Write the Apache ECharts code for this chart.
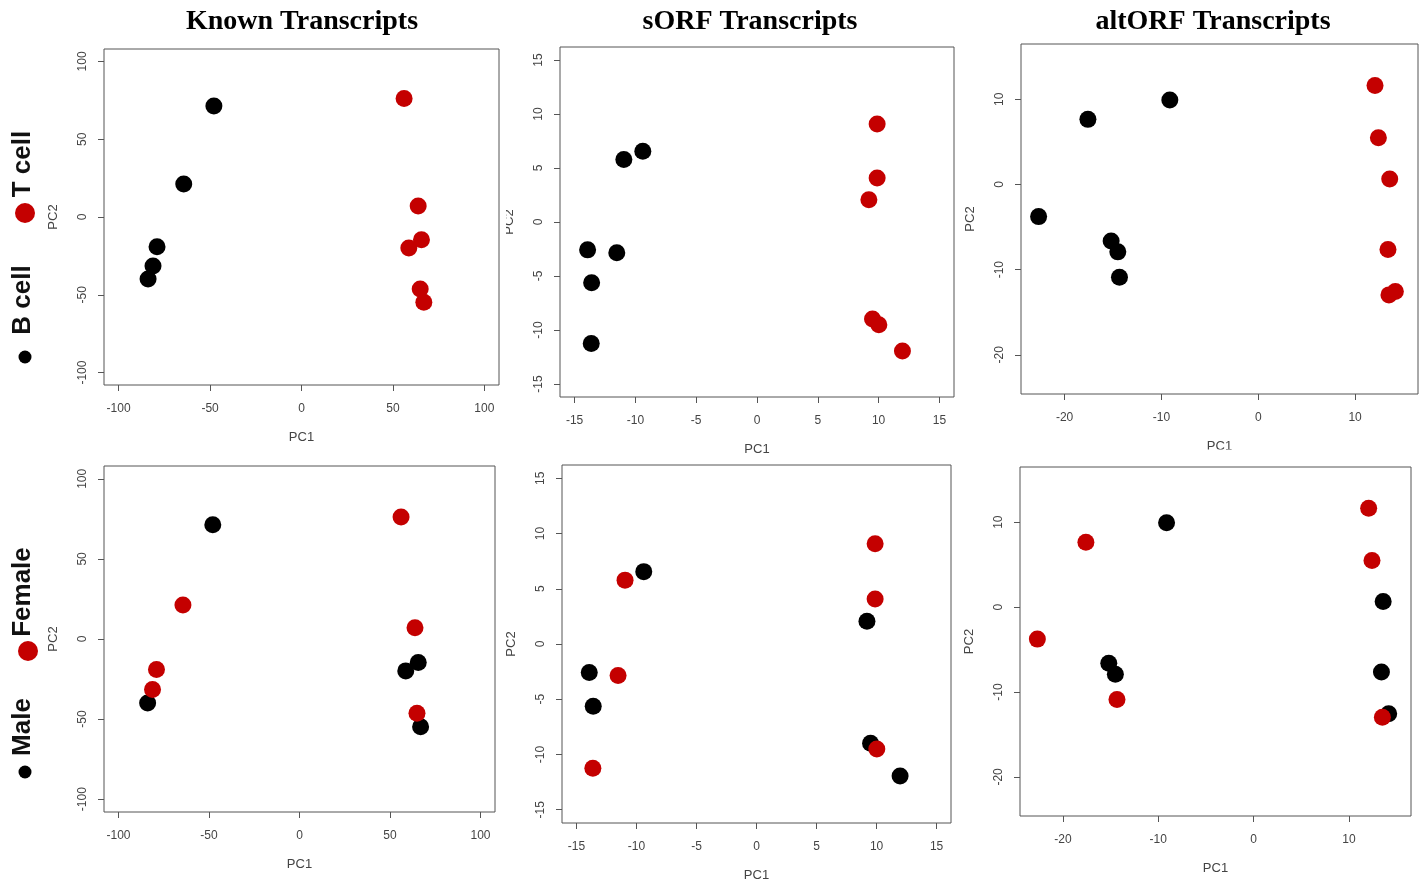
<!DOCTYPE html>
<html>
<head>
<meta charset="utf-8">
<script src="https://cdn.jsdelivr.net/npm/echarts@6/dist/echarts.min.js"></script>
<style>
  html, body { margin: 0; background: #fff; }
  #chart { width: 1424px; height: 888px; }
</style>
</head>
<body>
<div id="chart"></div>
<script>
// PCA scores, one entry per sample
var knownPC1 = [-47.9, -64.4, -79.0, -81.2, -83.9, 56.1, 63.8, 65.6, 58.7, 64.9, 66.9];
var knownPC2 = [71.3, 21.2, -19.1, -31.5, -39.9, 76.2, 7.0, -14.6, -19.9, -46.3, -54.8];
var knownCell = ['B', 'B', 'B', 'B', 'B', 'T', 'T', 'T', 'T', 'T', 'T'];
var knownSex = ['M', 'F', 'F', 'F', 'M', 'F', 'F', 'M', 'M', 'F', 'M'];

var sorfPC1 = [-10.95, -9.39, -13.93, -11.53, -13.6, -13.63, 9.88, 9.88, 9.2, 9.5, 10.02, 11.96];
var sorfPC2 = [5.78, 6.55, -2.58, -2.85, -5.63, -11.24, 9.08, 4.08, 2.05, -8.99, -9.51, -11.95];
var sorfCell = ['B', 'B', 'B', 'B', 'B', 'B', 'T', 'T', 'T', 'T', 'T', 'T'];
var sorfSex = ['F', 'M', 'M', 'F', 'M', 'F', 'F', 'F', 'M', 'M', 'F', 'M'];

var altPC1 = [-22.68, -17.59, -9.13, -15.19, -14.5, -14.33, 12.06, 12.41, 13.58, 13.4, 13.5, 14.16];
var altPC2 = [-3.77, 7.65, 9.93, -6.62, -7.91, -10.89, 11.64, 5.5, 0.65, -7.64, -12.96, -12.57];
var altCell = ['B', 'B', 'B', 'B', 'B', 'B', 'T', 'T', 'T', 'T', 'T', 'T'];
var altSex = ['F', 'F', 'M', 'M', 'M', 'F', 'F', 'F', 'M', 'M', 'F', 'M'];

// axis ticks
var knownTicks = [-100, -50, 0, 50, 100];
var sorfTicks = [-15, -10, -5, 0, 5, 10, 15];
var altTicks = [-20, -10, 0, 10];

var titles = ['Known Transcripts', 'sORF Transcripts', 'altORF Transcripts'];

var RED = '#c40000';
var BLACK = '#000';

// panel layout: row 0 = cell type, row 1 = sex
var panels = [
    {pc1: knownPC1, pc2: knownPC2, grp: knownCell, red: 'T', ticks: knownTicks, xr: [-108, 108], yr: [-108, 108], box: [104, 49, 395, 336]},
    {pc1: sorfPC1, pc2: sorfPC2, grp: sorfCell, red: 'T', ticks: sorfTicks, xr: [-16.2, 16.2], yr: [-16.2, 16.2], box: [560, 47, 394, 350]},
    {pc1: altPC1, pc2: altPC2, grp: altCell, red: 'T', ticks: altTicks, xr: [-24.5, 16.5], yr: [-24.6, 16.5], box: [1021, 44, 397, 350]},
    {pc1: knownPC1, pc2: knownPC2, grp: knownSex, red: 'F', ticks: knownTicks, xr: [-108, 108], yr: [-108, 108], box: [104, 466, 391, 346]},
    {pc1: sorfPC1, pc2: sorfPC2, grp: sorfSex, red: 'F', ticks: sorfTicks, xr: [-16.2, 16.2], yr: [-16.2, 16.2], box: [562, 465, 389, 358]},
    {pc1: altPC1, pc2: altPC2, grp: altSex, red: 'F', ticks: altTicks, xr: [-24.5, 16.5], yr: [-24.6, 16.5], box: [1020, 467, 391, 349]}
];

var grids = [], xAxes = [], yAxes = [], series = [];
var labelFont = 'Liberation Sans, Arial, sans-serif';

panels.forEach(function (p, i) {
    grids.push({
        left: p.box[0], top: p.box[1], width: p.box[2], height: p.box[3],
        show: true, borderColor: '#555', borderWidth: 1, backgroundColor: '#fff'
    });
    xAxes.push({
        gridIndex: i, type: 'value', min: p.xr[0], max: p.xr[1], position: 'bottom',
        name: 'PC1', nameLocation: 'middle', nameGap: 46,
        nameTextStyle: {color: '#444', fontSize: 13, fontFamily: labelFont},
        axisLine: {show: false, onZero: false},
        axisTick: {show: true, length: 6, customValues: p.ticks, lineStyle: {color: '#555'}},
        axisLabel: {customValues: p.ticks, margin: 18, color: '#444', fontSize: 12, fontFamily: labelFont},
        splitLine: {show: false}
    });
    yAxes.push({
        gridIndex: i, type: 'value', min: p.yr[0], max: p.yr[1], position: 'left',
        name: 'PC2', nameLocation: 'middle', nameGap: 44,
        nameTextStyle: {color: '#444', fontSize: 13, fontFamily: labelFont},
        axisLine: {show: false, onZero: false},
        axisTick: {show: true, length: 6, customValues: p.ticks, lineStyle: {color: '#555'}},
        axisLabel: {customValues: p.ticks, rotate: 90, margin: 15, color: '#444', fontSize: 12, fontFamily: labelFont},
        splitLine: {show: false}
    });
    var blackPts = [], redPts = [];
    p.pc1.forEach(function (v, k) {
        (p.grp[k] === p.red ? redPts : blackPts).push([v, p.pc2[k]]);
    });
    series.push({
        type: 'scatter', xAxisIndex: i, yAxisIndex: i, data: blackPts,
        symbolSize: 17, itemStyle: {color: BLACK, opacity: 1}, silent: true
    });
    series.push({
        type: 'scatter', xAxisIndex: i, yAxisIndex: i, data: redPts,
        symbolSize: 17, itemStyle: {color: RED, opacity: 1}, silent: true
    });
});

var titleX = [302, 750, 1213];
var graphics = titles.map(function (t, i) {
    return {
        type: 'text', x: titleX[i], y: 22, z: 10,
        style: {text: t, fill: '#000', font: 'bold 28px "Liberation Serif", "Times New Roman", serif', align: 'center', verticalAlign: 'middle'}
    };
});

// legend strips on the left, rotated
function vtext(txt, x, y) {
    return {
        type: 'text', x: x, y: y, rotation: Math.PI / 2, z: 10,
        style: {text: txt, fill: '#111', font: 'bold 26px "Liberation Sans", Arial, sans-serif', align: 'center', verticalAlign: 'middle'}
    };
}
function dot(x, y, r, c) {
    return {type: 'circle', shape: {cx: x, cy: y, r: r}, style: {fill: c}, z: 10};
}
graphics.push(
    vtext('T cell', 23, 164), dot(25, 213, 10, RED),
    vtext('B cell', 23, 300), dot(25, 357, 6.5, BLACK),
    vtext('Female', 23, 592), dot(28, 651, 10, RED),
    vtext('Male', 23, 727), dot(25, 772, 6.5, BLACK)
);
// neighbouring panels crop some axis names in the original figure
graphics.push(
    {type: 'rect', shape: {x: 500, y: 190, width: 6, height: 60}, style: {fill: '#fff'}, z: 100},
    {type: 'rect', shape: {x: 1150, y: 449.5, width: 140, height: 15}, style: {fill: '#fff'}, z: 100}
);

var chart = echarts.init(document.getElementById('chart'));
chart.setOption({
    backgroundColor: '#fff',
    animation: false,
    grid: grids,
    xAxis: xAxes,
    yAxis: yAxes,
    series: series,
    graphic: graphics
});
</script>
</body>
</html>
